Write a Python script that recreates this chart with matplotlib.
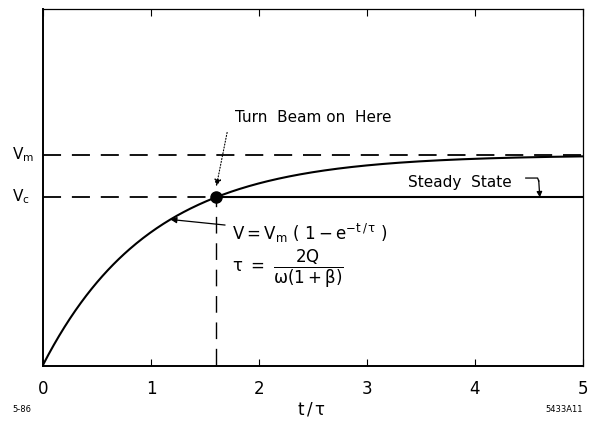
import numpy as np
import matplotlib.pyplot as plt

plt.rcParams['font.family'] = ['DejaVu Sans']
plt.rcParams['mathtext.fontset'] = 'dejavusans'
plt.rcParams['mathtext.default'] = 'regular'

# charging curve V = Vm (1 - exp(-t/tau)), t in units of tau
vm = 1.0
tau = 1.0
t_on = 1.6
t = np.linspace(0, 5, 400)
v = vm * (1 - np.exp(-t / tau))
vc = vm * (1 - np.exp(-t_on / tau))

x_ticks = [0, 1, 2, 3, 4, 5]
x_ticklabels = ['0', '1', '2', '3', '4', '5']

fig = plt.figure(figsize=(5.98, 4.24), dpi=100)
ax = fig.add_axes([0.0719, 0.1368, 0.9030, 0.8420])

ax.plot(t, v, color='black', lw=1.5)
ax.plot([0, 5], [vm, vm], color='black', lw=1.3, dashes=(10, 6))
ax.plot([0, t_on], [vc, vc], color='black', lw=1.3, dashes=(10, 6))
ax.plot([t_on, 5], [vc, vc], color='black', lw=1.5)
ax.plot([t_on, t_on], [0, vc], color='black', lw=1.0, dashes=(12, 7))
ax.plot([t_on], [vc], 'o', color='black', ms=8)

ax.set_xlim(0, 5)
ax.set_ylim(-0.005, 1.695)
ax.set_xticks(x_ticks)
ax.set_xticklabels(x_ticklabels, fontsize=12)
ax.set_yticks([])
ax.tick_params(axis='x', direction='in', length=5, top=True, pad=10)
for side in ['left', 'bottom']:
    ax.spines[side].set_linewidth(1.4)
for side in ['top', 'right']:
    ax.spines[side].set_linewidth(0.9)

# annotations
ax.text(1.78, 1.18, 'Turn  Beam on  Here', fontsize=11, va='center')
ax.annotate('', xy=(t_on, vc + 0.04), xytext=(1.71, 1.12),
            arrowprops=dict(arrowstyle='-|>', color='black', lw=0.8,
                            linestyle=':', mutation_scale=10))

t_arrow = 1.18
ax.annotate(r'$V = V_m\ (\ 1 - e^{-t\,/\,\tau}\ )$',
            xy=(t_arrow, vm * (1 - np.exp(-t_arrow / tau))),
            xytext=(1.75, 0.625), fontsize=12, va='center',
            arrowprops=dict(arrowstyle='-|>', color='black', lw=0.9,
                            mutation_scale=9, shrinkB=0, shrinkA=3))
ax.text(1.75, 0.455, r'$\tau\ =\ \dfrac{2Q}{\omega(1+\beta)}$', fontsize=12,
        va='center')

ax.text(3.38, 0.867, 'Steady  State', fontsize=11, va='center')
ax.plot([4.47, 4.58, 4.59], [0.89, 0.89, 0.875], color='black', lw=0.9)
ax.annotate('', xy=(4.60, vc), xytext=(4.59, 0.88),
            arrowprops=dict(arrowstyle='-|>', color='black', lw=0.9,
                            mutation_scale=8, shrinkA=0, shrinkB=0))

# level labels left of the frame
fig.text(12 / 598, 1 - 155 / 424, r'$V_m$', fontsize=11, va='center')
fig.text(12 / 598, 1 - 197 / 424, r'$V_c$', fontsize=11, va='center')

fig.text(311 / 598, 1 - 410 / 424, r'$t\,/\,\tau$', fontsize=12,
         ha='center', va='center')
fig.text(12 / 598, 1 - 409 / 424, '5-86', fontsize=6, va='center')
fig.text(545 / 598, 1 - 409 / 424, '5433A11', fontsize=6, va='center')

fig.savefig('out.png', dpi=100)
